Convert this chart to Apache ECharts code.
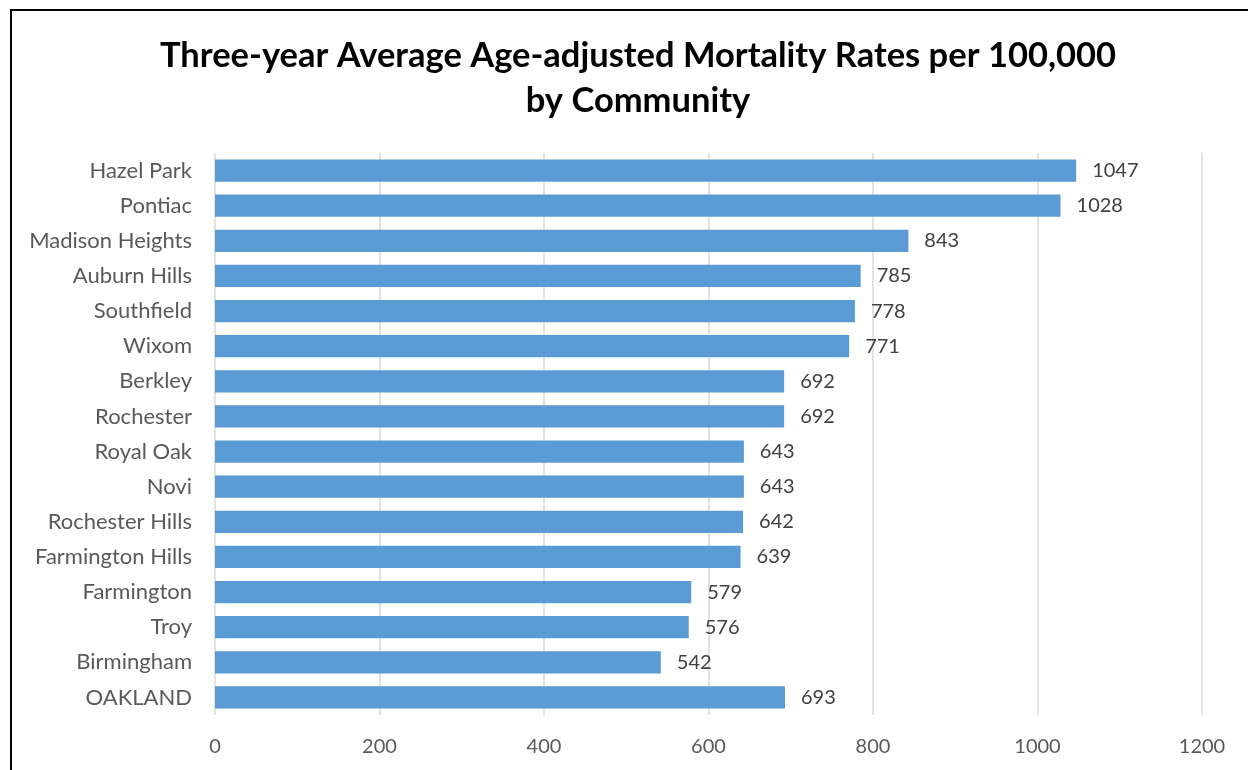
<!DOCTYPE html>
<html>
<head>
<meta charset="utf-8">
<script src="https://cdn.jsdelivr.net/npm/echarts@6/dist/echarts.min.js"></script>
<style>
  html, body { margin: 0; padding: 0; background: #fff; }
  #chart { width: 1248px; height: 770px; }
</style>
</head>
<body>
<div id="chart"></div>
<script>
// communities, top to bottom
const communities = ['Hazel Park', 'Pontiac', 'Madison Heights', 'Auburn Hills', 'Southfield', 'Wixom',
  'Berkley', 'Rochester', 'Royal Oak', 'Novi', 'Rochester Hills', 'Farmington Hills',
  'Farmington', 'Troy', 'Birmingham', 'OAKLAND']
// rate per 100,000
const rates = [1047, 1028, 843, 785, 778, 771, 692, 692, 643, 643, 642, 639, 579, 576, 542, 693]
const xTicks = [0, 1200, 200]  // min, max, step

const chart = echarts.init(document.getElementById('chart'))

const font = 'Lato, "Open Sans", sans-serif'

chart.setOption({
  animation: false,
  title: {
    text: 'Three-year Average Age-adjusted Mortality Rates per 100,000\nby Community',
    left: 633,
    textAlign: 'center',
    top: 28,
    textStyle: {
      fontFamily: font,
      fontWeight: 'bold',
      fontSize: 34.5,
      lineHeight: 45,
      color: '#000'
    }
  },
  graphic: [{
    type: 'polyline',
    shape: { points: [[11, 800], [11, 10], [1260, 10]] },
    style: { stroke: '#000', lineWidth: 2, fill: null }
  }],
  grid: { left: 215, right: 46, top: 153, bottom: 55 },
  xAxis: {
    type: 'value',
    min: xTicks[0],
    max: xTicks[1],
    interval: xTicks[2],
    axisLine: { show: false },
    axisTick: { show: false },
    axisLabel: {
      color: '#595959', fontSize: 20, fontFamily: font, margin: 22,
      formatter: v => String(v)
    },
    splitLine: { lineStyle: { color: '#d9d9d9', width: 1.5 } }
  },
  yAxis: {
    type: 'category',
    data: communities,
    inverse: true,
    axisLine: { show: false },
    axisTick: { show: false },
    axisLabel: { color: '#595959', fontSize: 22, fontFamily: font, margin: 23 }
  },
  series: [{
    type: 'bar',
    data: rates,
    barCategoryGap: '37%',
    itemStyle: { color: '#5b9bd5' },
    label: {
      show: true,
      position: 'right',
      distance: 16,
      color: '#404040',
      fontSize: 20,
      fontFamily: font
    }
  }]
})
</script>
</body>
</html>
